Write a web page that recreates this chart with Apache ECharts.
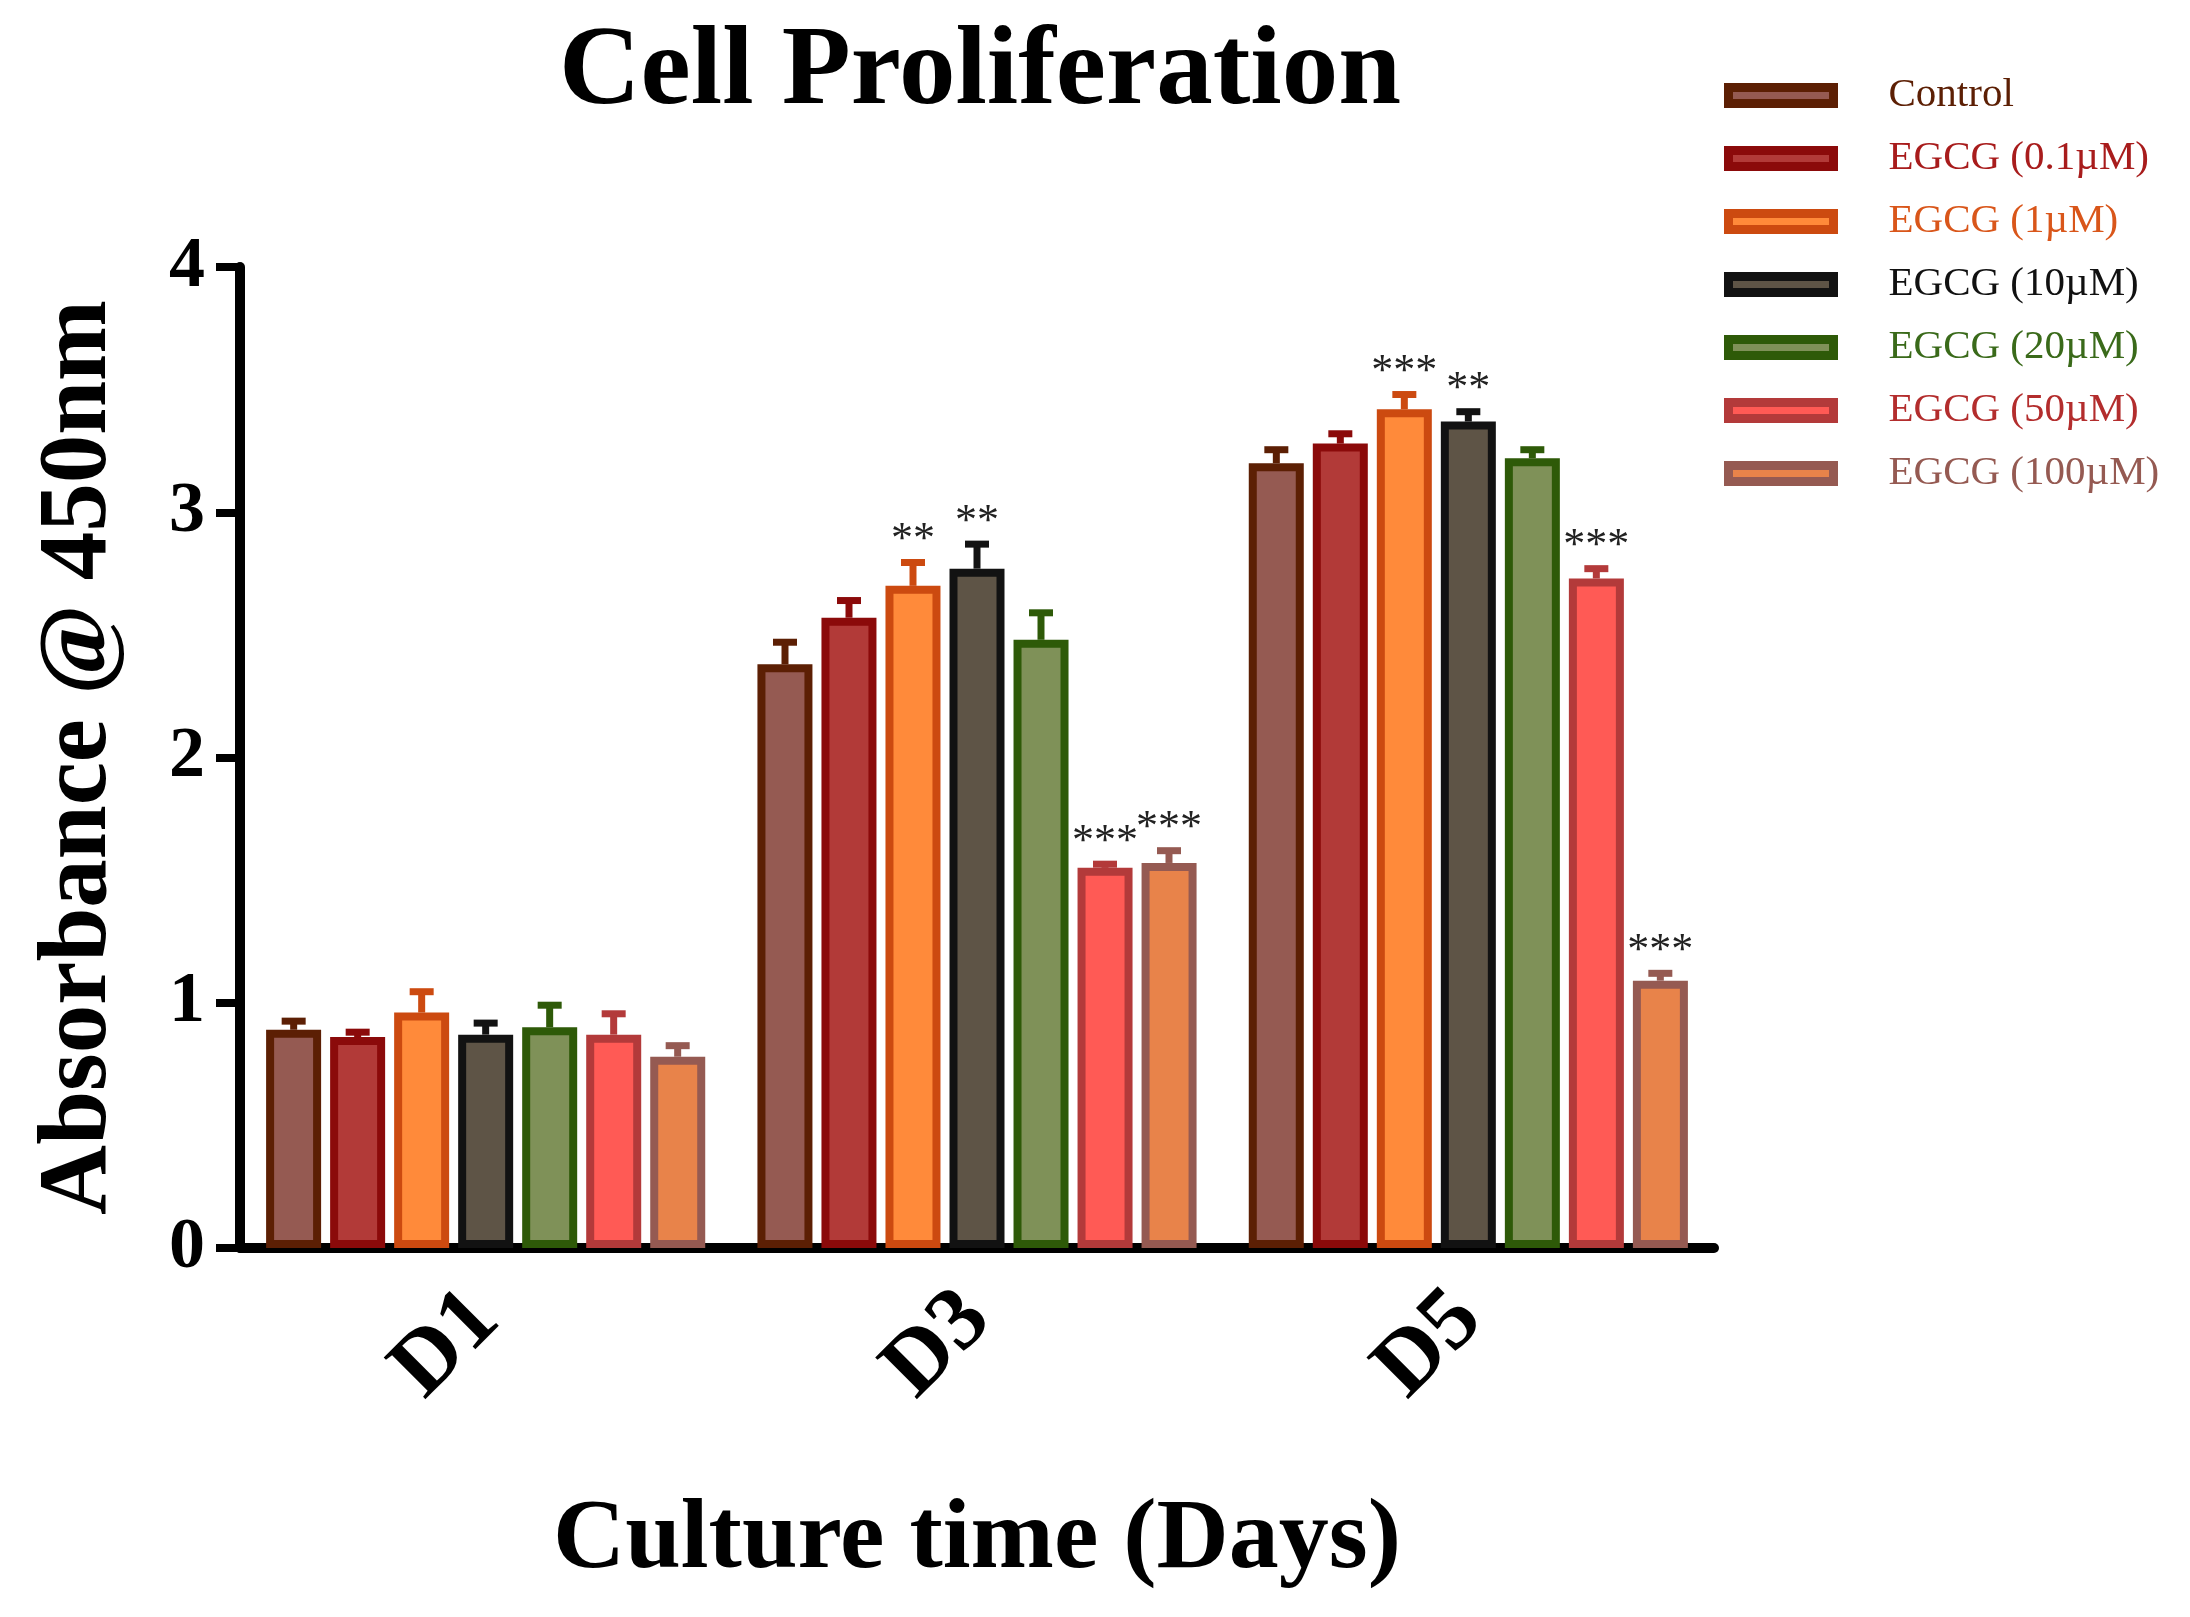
<!DOCTYPE html>
<html>
<head>
<meta charset="utf-8">
<script src="https://cdn.jsdelivr.net/npm/echarts@6/dist/echarts.min.js"></script>
<style>
html, body { margin: 0; padding: 0; background: #fff; }
#chart { width: 2190px; height: 1617px; }
</style>
</head>
<body>
<div id="chart"></div>
<script>
// categories
const days = ['D1', 'D3', 'D5'];
const groupNames = ['Control', 'EGCG (0.1µM)', 'EGCG (1µM)', 'EGCG (10µM)', 'EGCG (20µM)', 'EGCG (50µM)', 'EGCG (100µM)'];

// mean absorbance per group (D1, D3, D5)
const control  = [0.89, 2.38, 3.20];
const egcg01   = [0.86, 2.57, 3.28];
const egcg1    = [0.96, 2.70, 3.42];
const egcg10   = [0.87, 2.77, 3.37];
const egcg20   = [0.90, 2.48, 3.22];
const egcg50   = [0.87, 1.55, 2.73];
const egcg100  = [0.78, 1.57, 1.09];

// upper error (SD)
const controlErr = [0.035, 0.09, 0.055];
const egcg01Err  = [0.02, 0.07, 0.04];
const egcg1Err   = [0.085, 0.095, 0.06];
const egcg10Err  = [0.047, 0.10, 0.04];
const egcg20Err  = [0.09, 0.11, 0.035];
const egcg50Err  = [0.085, 0.015, 0.04];
const egcg100Err = [0.045, 0.05, 0.03];

// significance marks
const controlSig = ['', '', ''];
const egcg01Sig  = ['', '', ''];
const egcg1Sig   = ['', '**', '***'];
const egcg10Sig  = ['', '**', '**'];
const egcg20Sig  = ['', '', ''];
const egcg50Sig  = ['', '***', '***'];
const egcg100Sig = ['', '***', '***'];

// y axis ticks
const yMin = 0, yMax = 4, yStep = 1;

const means = [control, egcg01, egcg1, egcg10, egcg20, egcg50, egcg100];
const errs = [controlErr, egcg01Err, egcg1Err, egcg10Err, egcg20Err, egcg50Err, egcg100Err];
const sigs = [controlSig, egcg01Sig, egcg1Sig, egcg10Sig, egcg20Sig, egcg50Sig, egcg100Sig];

const fills   = ['#955a52', '#b23a38', '#ff8a3a', '#5e5446', '#7f9158', '#ff5a55', '#e8834a'];
const borders = ['#5c1f04', '#8b0a0a', '#cc4a10', '#121212', '#2e5a08', '#b33a3a', '#955a52'];
const legendText = ['#5c1f04', '#a81c1c', '#d9561a', '#111111', '#3a6a1a', '#b32d2d', '#955a52'];

const font = '"Liberation Serif", "DejaVu Serif", serif';
const barW = 55;
const barStep = 64;   // centre-to-centre distance of bars in a group

let chart = echarts.init(document.getElementById('chart'));

// one point per bar for the error bars / stars
let errPoints = [];
means.forEach(function (arr, k) {
    arr.forEach(function (v, c) {
        errPoints.push({cat: c, k: k, value: v, err: errs[k][c], sig: sigs[k][c]});
    });
});

function renderErr(params, api) {
    let p = errPoints[params.dataIndex];
    let base = api.coord([p.cat, p.value]);
    let top = api.coord([p.cat, p.value + p.err]);
    let x = base[0] + (p.k - 3) * barStep;
    let color = borders[p.k];
    let children = [
        {
            type: 'line',
            shape: {x1: x, y1: base[1], x2: x, y2: top[1]},
            style: {stroke: color, lineWidth: 7}
        },
        {
            type: 'line',
            shape: {x1: x - 12, y1: top[1], x2: x + 12, y2: top[1]},
            style: {stroke: color, lineWidth: 7}
        }
    ];
    if (p.sig) {
        children.push({
            type: 'text',
            style: {
                text: p.sig, x: x, y: top[1] - 22,
                align: 'center', verticalAlign: 'middle',
                fontSize: 44, fontFamily: font, fill: '#222'
            }
        });
    }
    return {type: 'group', children: children};
}

let series = groupNames.map(function (name, k) {
    return {
        name: name,
        type: 'bar',
        barWidth: barW,
        barGap: '16.4%',
        data: means[k],
        itemStyle: {
            color: fills[k],
            borderColor: borders[k],
            borderWidth: 8
        }
    };
});

series.push({
    name: 'error',
    type: 'custom',
    renderItem: renderErr,
    data: errPoints.map(function (p) { return [p.cat, p.value + p.err]; }),
    encode: {x: 0, y: 1},
    z: 5,
    silent: true
});

let option = {
    animation: false,
    backgroundColor: '#fff',
    // 标题
    graphic: [{
        type: 'text',
        x: 980,
        y: 74,
        style: {
            text: 'Cell Proliferation',
            font: 'bold 113px ' + font,
            fill: '#000',
            align: 'center',
            verticalAlign: 'middle'
        }
    }],
    // 图例
    legend: {
        orient: 'vertical',
        left: 1724,
        top: 75,
        padding: 0,
        itemWidth: 105,
        itemHeight: 16,
        itemGap: 22,
        itemStyle: {borderWidth: 9},
        textStyle: {fontFamily: font, fontSize: 41, padding: [0, 0, 0, 50]},
        data: groupNames.map(function (n, i) {
            return {name: n, icon: 'rect', textStyle: {color: legendText[i]}};
        })
    },
    grid: {
        left: 240,
        right: 476,
        top: 267,
        bottom: 369
    },
    xAxis: {
        type: 'category',
        data: days,
        name: 'Culture time (Days)',
        nameLocation: 'middle',
        nameGap: 243,
        nameTextStyle: {fontFamily: font, fontSize: 100, fontWeight: 'bold', color: '#000'},
        axisLine: {lineStyle: {color: '#000', width: 10}},
        axisTick: {alignWithLabel: true, length: 22, lineStyle: {color: '#000', width: 12}},
        axisLabel: {
            rotate: 45,
            margin: 58,
            fontFamily: font,
            fontSize: 90,
            fontWeight: 'bold',
            color: '#000'
        }
    },
    yAxis: {
        type: 'value',
        min: yMin,
        max: yMax,
        interval: yStep,
        name: 'Absorbance @ 450nm',
        nameLocation: 'middle',
        nameGap: 112,
        nameTextStyle: {fontFamily: font, fontSize: 97, fontWeight: 'bold', color: '#000'},
        splitLine: {show: false},
        axisLine: {show: true, lineStyle: {color: '#000', width: 10}},
        axisTick: {show: true, length: 24, lineStyle: {color: '#000', width: 8}},
        axisLabel: {
            margin: 35,
            fontFamily: font,
            fontSize: 72,
            fontWeight: 'bold',
            color: '#000'
        }
    },
    series: series
};

chart.setOption(option);
</script>
</body>
</html>
